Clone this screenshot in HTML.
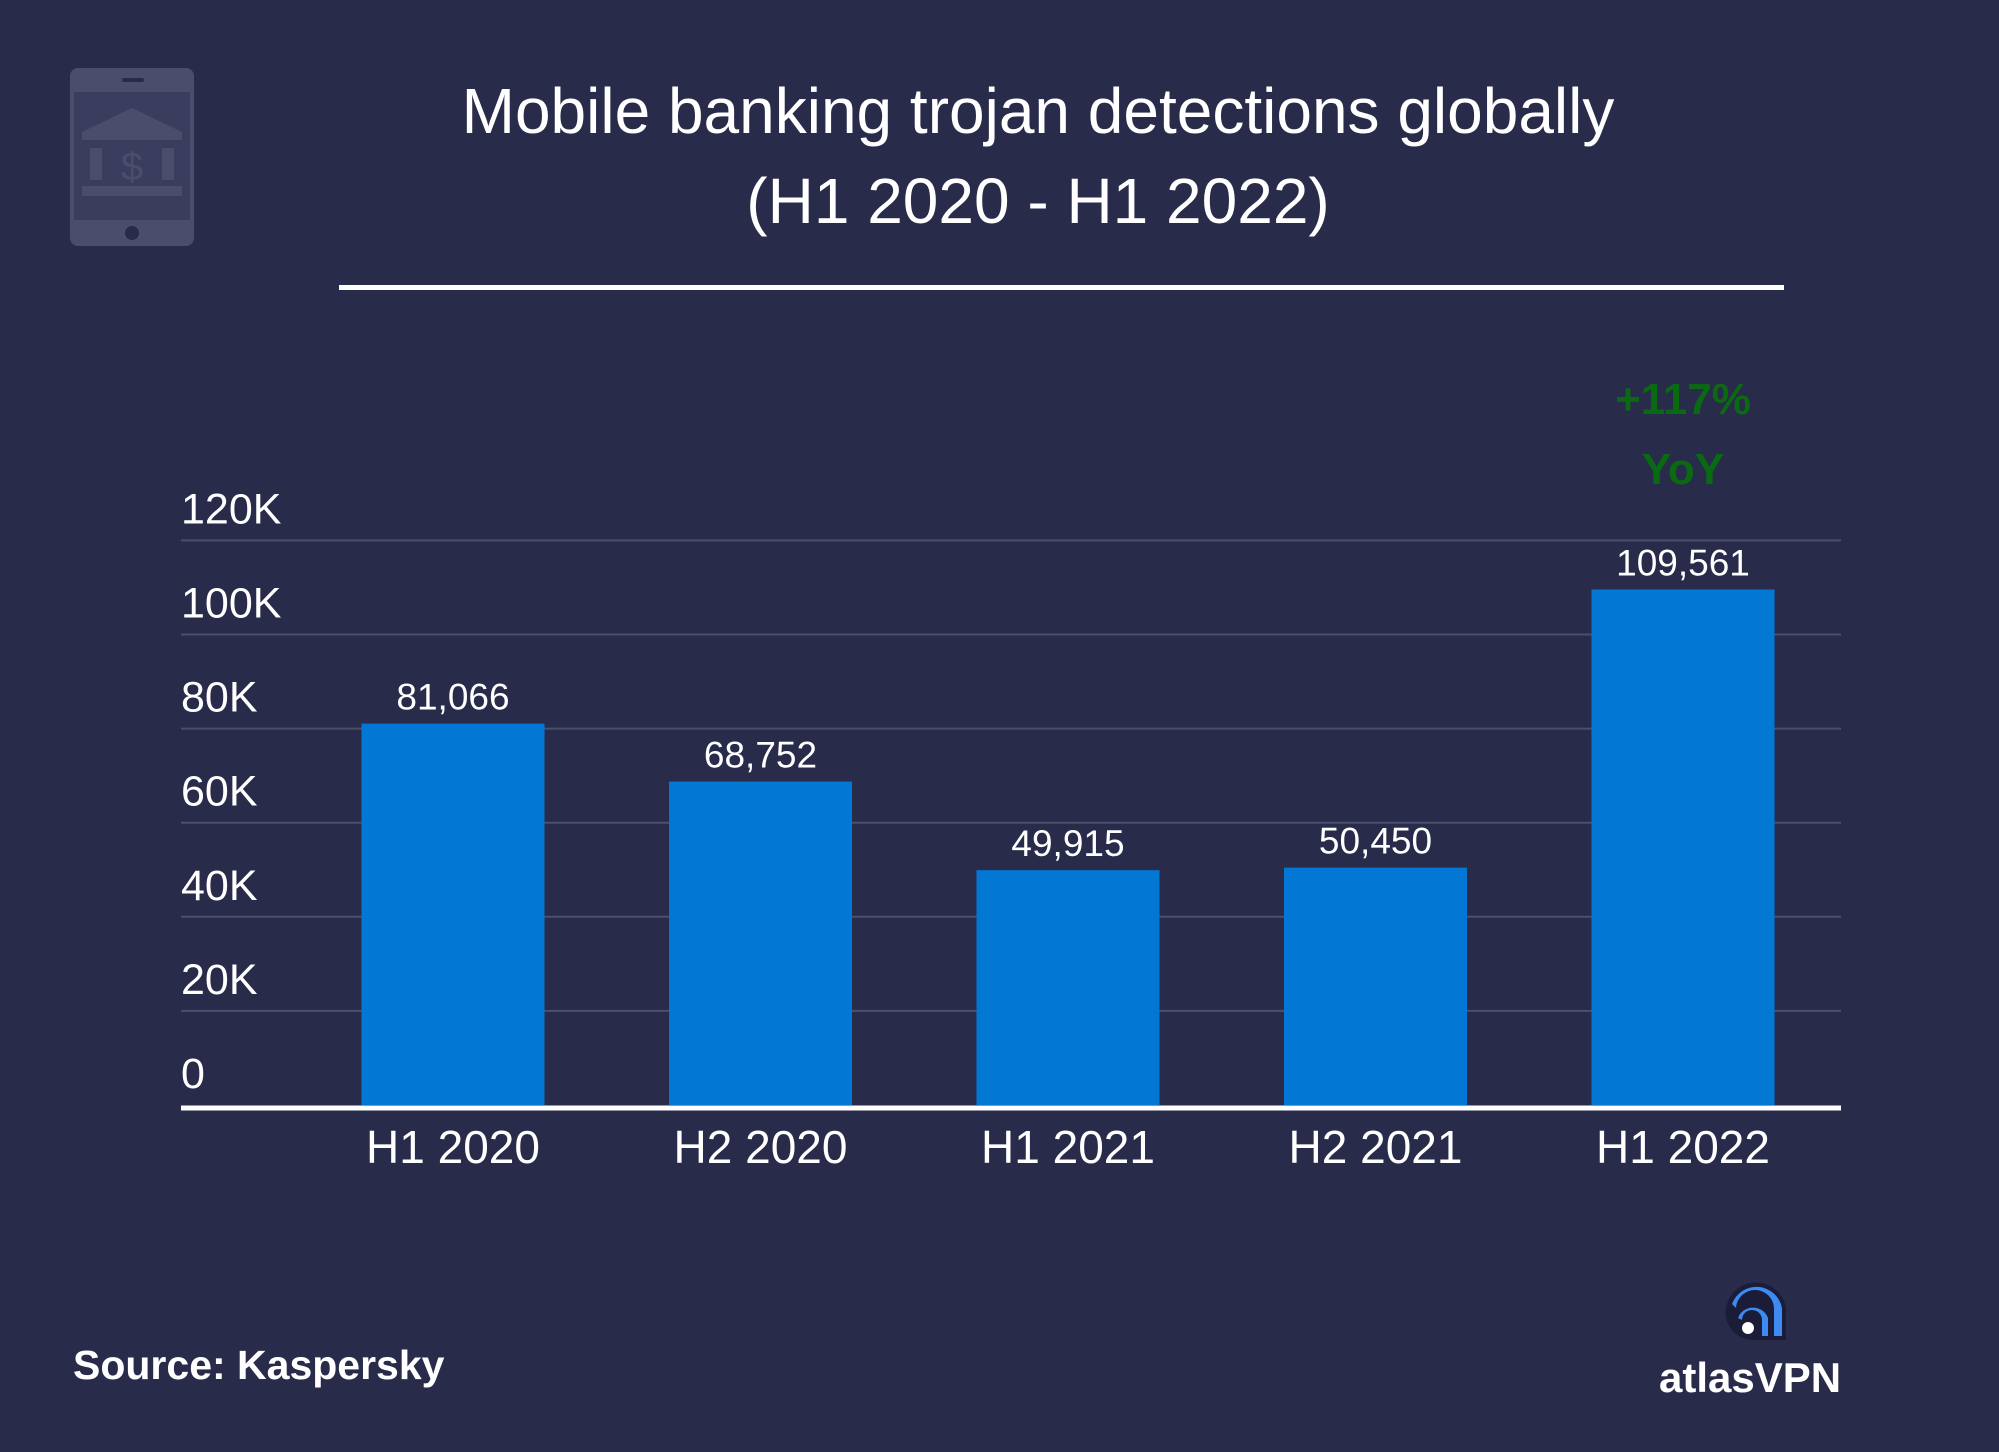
<!DOCTYPE html>
<html><head><meta charset="utf-8"><style>
html,body{margin:0;padding:0;background:#292b4b;}
#root{position:relative;width:1999px;height:1452px;background:#292b4b;overflow:hidden;font-family:"Liberation Sans",sans-serif;color:#fff;}
.t{position:absolute;white-space:nowrap;}
</style></head><body>
<div id="root">
<svg style="position:absolute;left:68px;top:68px" width="130" height="180" viewBox="0 0 130 180">
<rect x="2" y="0" width="124" height="178" rx="8" fill="#4b4d6d"/>
<rect x="6" y="24" width="116" height="128" fill="#3b3d5e"/>
<rect x="54" y="10" width="22" height="4" rx="2" fill="#292b4b"/>
<circle cx="64" cy="165" r="7" fill="#292b4b"/>
<polygon points="64,40 14,64 114,64" fill="#4b4d6d"/>
<rect x="14" y="64" width="100" height="8" fill="#4b4d6d"/>
<rect x="22" y="80" width="12" height="32" fill="#4b4d6d"/><rect x="94" y="80" width="12" height="32" fill="#4b4d6d"/>
<text x="64" y="112" font-size="40" text-anchor="middle" fill="#4b4d6d" font-family="Liberation Sans">$</text>
<rect x="14" y="118" width="100" height="10" fill="#4b4d6d"/>
</svg>
<div class="t" style="left:0;width:2076px;text-align:center;top:66px;font-size:64px;line-height:90px;">Mobile banking trojan detections globally<br>(H1 2020 - H1 2022)</div>
<div style="position:absolute;left:339px;top:285px;width:1445px;height:5px;background:#fff"></div>
<svg id="chart" style="position:absolute;left:0;top:0" width="1999" height="1452"></svg>
<div class="t" style="left:1583px;width:200px;text-align:center;top:365px;font-size:44px;font-weight:bold;color:#0a6a12;line-height:70px;">+117%<br>YoY</div>
<div class="t" style="left:73px;top:1342px;font-size:41px;font-weight:bold;">Source: Kaspersky</div>
<svg style="position:absolute;left:1720px;top:1278px" width="68" height="68" viewBox="0 0 68 68">
<path d="M6,40 A30,30 0 0 1 66,30 L66,62 L34,62 A28,28 0 0 1 6,40Z" fill="#1a1c38"/>
<path d="M12,26 A26,26 0 0 1 62,30 L62,58 L54,58 L54,32 A18,18 0 0 0 16,30Z" fill="#3d8bf2"/>
<path d="M18,40 A16,16 0 0 1 48,40 L48,58 L42,58 L42,42 A10,10 0 0 0 22,42Z" fill="#3d8bf2"/>
<circle cx="28" cy="50" r="6" fill="#fff"/>
</svg>
<div class="t" style="left:1659px;top:1354px;font-size:42px;font-weight:bold;">atlasVPN</div>
</div>
<script>
const categories=["H1 2020","H2 2020","H1 2021","H2 2021","H1 2022"];
const values=[81066,68752,49915,50450,109561];
const valueLabels=["81,066","68,752","49,915","50,450","109,561"];
const ticks=[0,20000,40000,60000,80000,100000,120000];
const tickLabels=["0","20K","40K","60K","80K","100K","120K"];
const NS="http://www.w3.org/2000/svg";
const svg=document.getElementById('chart');
const y0=1105,pxPer=94.1/20000;
function yScale(v){return y0-v*pxPer;}
function xScale(i){return 453+i*307.5;}
function mk(tag,attrs,txt){const e=document.createElementNS(NS,tag);for(const k in attrs)e.setAttribute(k,attrs[k]);if(txt!==undefined)e.textContent=txt;svg.appendChild(e);return e;}
ticks.forEach((t,i)=>{
  if(t>0){const g=mk('line',{x1:181,x2:1841,y1:yScale(t),y2:yScale(t),stroke:'#4c4e6e','stroke-width':2});
  
  }
  const l=mk('text',{x:181,y:yScale(t)-17,'font-size':43,fill:'#fff','font-family':'Liberation Sans'},tickLabels[i]);
  
  
});
const bw=183;
values.forEach((v,i)=>{
  const b=mk('rect',{x:xScale(i)-bw/2,y:yScale(v),width:bw,height:y0-yScale(v),fill:'#0277d4'});
  
  
  const l=mk('text',{x:xScale(i),y:yScale(v)-14,'font-size':37,fill:'#fff','text-anchor':'middle','font-family':'Liberation Sans'},valueLabels[i]);
  
  
  const c=mk('text',{x:xScale(i),y:1163,'font-size':46,fill:'#fff','text-anchor':'middle','font-family':'Liberation Sans'},categories[i]);
  
  
});
const ax=mk('line',{x1:181,x2:1841,y1:y0+3,y2:y0+3,stroke:'#fff','stroke-width':5});


</script>
</body></html>
